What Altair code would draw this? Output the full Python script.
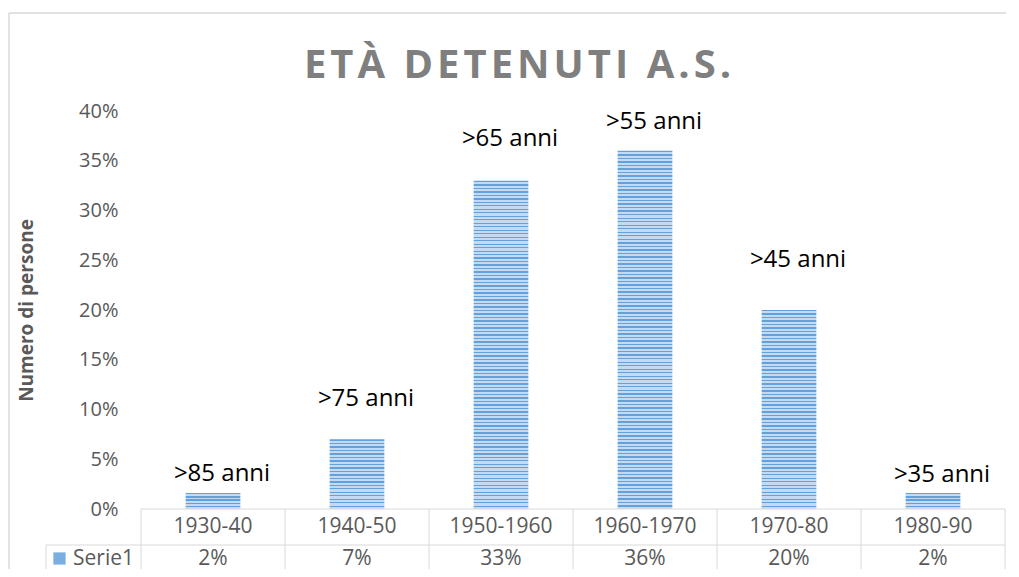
import altair as alt
import pandas as pd

# ---- data ----
categories = ["1930-40", "1940-50", "1950-1960", "1960-1970", "1970-80", "1980-90"]
shares = [1.6, 7.0, 33.0, 36.0, 20.0, 1.6]          # percent of persons
age_labels = [">85 anni", ">75 anni", ">65 anni", ">55 anni", ">45 anni", ">35 anni"]
label_at = [3.5, 11.1, 37.2, 38.9, 25.0, 3.4]        # height (in %) where each custom label sits
series_name = "Serie1"
y_ticks = [0, 5, 10, 15, 20, 25, 30, 35, 40]
title_text = "ETÀ DETENUTI A.S."
y_title = "Numero di persone"

# ---- style ----
FONT = "Open Sans"
W, H, TH = 864, 398, 60
PX_PER_PCT = H / 40
DARK, LIGHT = "#64a0da", "#c4daf2"
GRID = "#d9d9d9"
TXT = "#595959"

df = pd.DataFrame({"cat": categories, "share": shares, "label": age_labels, "label_at": label_at})
df["share_txt"] = [f"{round(v)}%" for v in shares]
one = alt.Data(values=[{"k": 1}])

xscale = alt.Scale(domain=categories, paddingInner=0, paddingOuter=0)
yscale = alt.Scale(domain=[0, 40], nice=False)


def stripes(v):
    h = v * PX_PER_PCT
    n = max(1, round(h / 3.5))
    stops = []
    for i in range(n):
        a, b, c = i / n, (i + 0.4) / n, (i + 1) / n
        stops += [
            {"offset": a, "color": DARK},
            {"offset": b, "color": DARK},
            {"offset": b, "color": LIGHT},
            {"offset": c, "color": LIGHT},
        ]
    return alt.LinearGradient(gradient="linear", stops=stops, x1=0, x2=0, y1=0, y2=1)


base = alt.Chart(df)

bar_layers = []
for i, (c, v) in enumerate(zip(categories, shares)):
    enc = dict(x=alt.X("cat:N", scale=xscale, axis=None))
    if i == 0:
        enc["y"] = alt.Y(
            "share:Q",
            scale=yscale,
            title=y_title,
            axis=alt.Axis(
                values=y_ticks,
                labelExpr="datum.value + '%'",
                grid=False,
                domain=False,
                ticks=False,
                tickSize=0,
                labelPadding=23,
                labelFont=FONT,
                labelFontSize=20,
                labelColor=TXT,
                titleFont=FONT,
                titleFontSize=19,
                titleFontWeight="bold",
                titleColor=TXT,
                titlePadding=42,
            ),
        )
    else:
        enc["y"] = alt.Y("share:Q", scale=yscale)
    bar_layers.append(
        base.transform_filter(alt.datum.cat == c)
        .mark_bar(fill=stripes(v), width=alt.RelativeBandSize(0.38))
        .encode(**enc)
    )

labels = base.mark_text(font=FONT, fontSize=24, color="#000000", baseline="middle", dx=9).encode(
    x=alt.X("cat:N", scale=xscale, axis=None),
    y=alt.Y("label_at:Q", scale=yscale),
    text="label:N",
)

border_top = alt.Chart(one).mark_rule(color=GRID, strokeWidth=1.5).encode(
    x=alt.value(-132), x2=alt.value(865), y=alt.value(-98)
)
border_left = alt.Chart(one).mark_rule(color=GRID, strokeWidth=1.5).encode(
    x=alt.value(-132), y=alt.value(-98), y2=alt.value(H + TH)
)

spaced_title = "\u200a".join(list(title_text))
title_mark = alt.Chart(one).mark_text(
    text=spaced_title,
    font=FONT,
    fontSize=40,
    fontWeight="bold",
    color="#7f7f7f",
    align="center",
    baseline="alphabetic",
).encode(x=alt.value(W / 2 - 55.5), y=alt.value(-33))

top = alt.layer(*bar_layers, labels, title_mark, border_top, border_left).properties(width=W, height=H)

# ---- data table under the chart ----
vlines = base.mark_rule(color=GRID).encode(
    x=alt.X("cat:N", scale=xscale, bandPosition=0, axis=None), y=alt.value(0), y2=alt.value(TH)
)
vline_end = alt.Chart(one).mark_rule(color=GRID).encode(x=alt.value(W), y=alt.value(0), y2=alt.value(TH))
hline_top = alt.Chart(one).mark_rule(color=GRID).encode(x=alt.value(0), x2=alt.value(W), y=alt.value(0))
hline_mid = alt.Chart(one).mark_rule(color=GRID).encode(x=alt.value(-95), x2=alt.value(W), y=alt.value(36))
leg_left = alt.Chart(one).mark_rule(color=GRID).encode(x=alt.value(-95), y=alt.value(36), y2=alt.value(TH))

head_txt = base.mark_text(font=FONT, fontSize=21, color=TXT, baseline="middle").encode(
    x=alt.X("cat:N", scale=xscale, axis=None), y=alt.value(18), text="cat:N"
)
val_txt = base.mark_text(font=FONT, fontSize=21, color=TXT, baseline="middle").encode(
    x=alt.X("cat:N", scale=xscale, axis=None), y=alt.value(50), text="share_txt:N"
)

legend_layer = alt.Chart(alt.Data(values=[{"series": series_name}])).mark_square(opacity=0).encode(
    color=alt.Color(
        "series:N",
        scale=alt.Scale(domain=[series_name], range=["#7aaee0"]),
        legend=alt.Legend(
            orient="none",
            legendX=-92,
            legendY=H + 39,
            title=None,
            symbolType="square",
            symbolSize=150,
            symbolOpacity=1,
            symbolStrokeWidth=0,
            labelFont=FONT,
            labelFontSize=21,
            labelColor=TXT,
            labelOffset=3,
            padding=0,
        ),
    )
)

table = alt.layer(vlines, vline_end, hline_top, hline_mid, leg_left, head_txt, val_txt, legend_layer).properties(
    width=W, height=TH
)

chart = (
    alt.vconcat(top, table, spacing=0, bounds="flush")
    .properties(padding={"left": 0, "top": 4, "right": 0, "bottom": 0})
    .configure_view(strokeWidth=0)
)

chart.save("out.html", embed_options={"renderer": "svg", "actions": False})
